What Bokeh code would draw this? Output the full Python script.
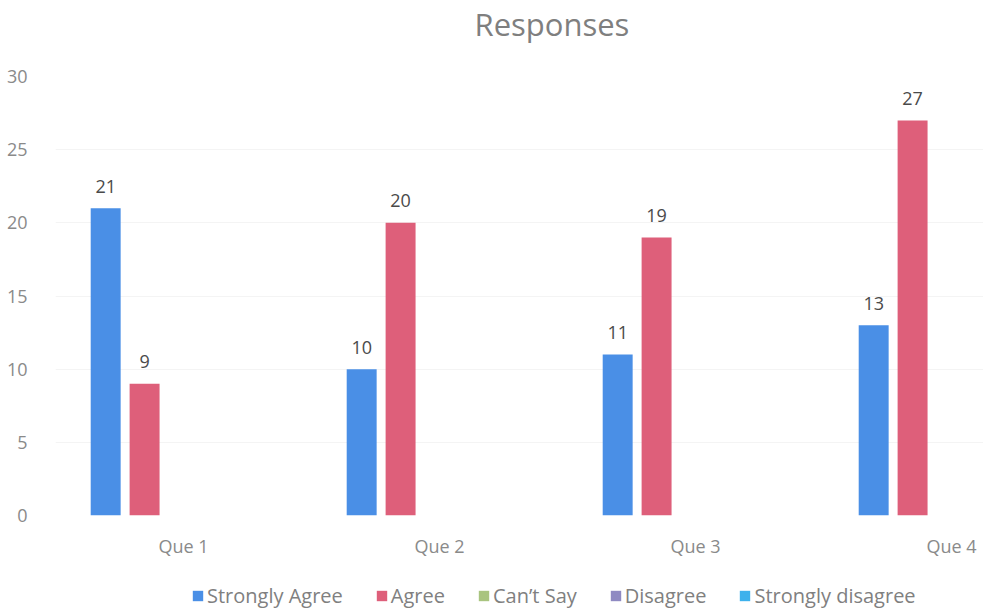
from bokeh.plotting import figure
from bokeh.models import ColumnDataSource, Legend, LegendItem, FixedTicker, Range1d, Label
from bokeh.layouts import column
from bokeh.transform import dodge
from bokeh.core.properties import value
from bokeh.embed import file_html
from bokeh.resources import INLINE

# ---- data ----
title_text = "Responses"
categories = ["Que 1", "Que 2", "Que 3", "Que 4"]
series_names = ["Strongly Agree", "Agree", "Can\u2019t Say", "Disagree", "Strongly disagree"]
strongly_agree = [21, 10, 11, 13]
agree = [9, 20, 19, 27]
cant_say = [0, 0, 0, 0]
disagree = [0, 0, 0, 0]
strongly_disagree = [0, 0, 0, 0]
y_ticks = [0, 5, 10, 15, 20, 25, 30]

series_values = [strongly_agree, agree, cant_say, disagree, strongly_disagree]
series_colors = ["#4a8fe6", "#de5f7a", "#a9c47f", "#8f8ac2", "#3db1ec"]
labelled = [True, True, False, False, False]

FONT = "Open Sans"
cat_pos = [i + 0.5 for i in range(len(categories))]

# ---- title strip ----
pt = figure(width=983, height=62, output_backend="svg", toolbar_location=None,
            x_axis_type=None, y_axis_type=None, x_range=Range1d(0, 1),
            y_range=Range1d(0, 1), min_border=0, outline_line_color=None)
pt.xgrid.grid_line_color = None
pt.ygrid.grid_line_color = None
pt.add_layout(Label(x=419, y=39, x_units="screen", y_units="screen",
                    text=title_text, text_font=FONT, text_font_size="31px",
                    text_color="#7f7f7f", text_align="left",
                    text_baseline="alphabetic"))

# ---- main chart ----
p = figure(width=983, height=498, output_backend="svg", toolbar_location=None,
           x_range=Range1d(0, 3.625), y_range=Range1d(0, 30),
           min_border_left=55, min_border_right=0, min_border_top=14,
           min_border_bottom=45, outline_line_color=None)

data = dict(x=cat_pos)
for i, vals in enumerate(series_values):
    data[f"s{i}"] = vals
    data[f"l{i}"] = [str(v) for v in vals]
src = ColumnDataSource(data)

slot = 0.152
bw = 0.117
for i, color in enumerate(series_colors):
    off = (i - 2) * slot
    p.vbar(x=dodge("x", off), top=f"s{i}", width=bw, source=src,
           fill_color=color, line_color=None)
    if labelled[i]:
        p.text(x=dodge("x", off), y=f"s{i}", text=f"l{i}", source=src,
               text_align="center", text_baseline="alphabetic", y_offset=-22,
               text_font=value(FONT), text_font_size="18px", text_color="#4a4a4a")

# axes
p.xaxis.ticker = FixedTicker(ticks=cat_pos)
p.xaxis.major_label_overrides = {pos: c for pos, c in zip(cat_pos, categories)}
p.yaxis.ticker = FixedTicker(ticks=y_ticks)
for ax in (p.xaxis, p.yaxis):
    ax.axis_line_color = None
    ax.major_tick_line_color = None
    ax.minor_tick_line_color = None
    ax.major_label_text_font = FONT
    ax.major_label_text_color = "#8a8a8a"
p.xaxis.major_label_text_font_size = "18px"
p.yaxis.major_label_text_font_size = "18px"
p.xaxis.major_label_standoff = 12
p.yaxis.major_label_standoff = 22

p.xgrid.grid_line_color = None
p.ygrid.grid_line_color = "#f4f4f4"

# ---- legend strip below the chart ----
pl = figure(width=983, height=49, output_backend="svg", toolbar_location=None,
            x_axis_type=None, y_axis_type=None, x_range=Range1d(0, 1),
            y_range=Range1d(0, 1), min_border=0, outline_line_color=None)
pl.xgrid.grid_line_color = None
pl.ygrid.grid_line_color = None
items = []
for i, (name, color) in enumerate(zip(series_names, series_colors)):
    r = pl.vbar(x="x", top=f"s{i}", width=bw, source=src,
                fill_color=color, line_color=None, visible=False)
    items.append(LegendItem(label=name, renderers=[r]))

legend = Legend(items=items, orientation="horizontal", location=(136, 0),
                glyph_width=13, glyph_height=13, label_standoff=3, spacing=32,
                padding=0, margin=0, border_line_color=None,
                background_fill_alpha=0, inactive_fill_alpha=0,
                label_text_font=FONT, label_text_font_size="20px",
                label_text_color="#808080")
pl.add_layout(legend, "center")

layout = column(pt, p, pl, spacing=0)
open("out.html", "w").write(file_html(layout, INLINE))
